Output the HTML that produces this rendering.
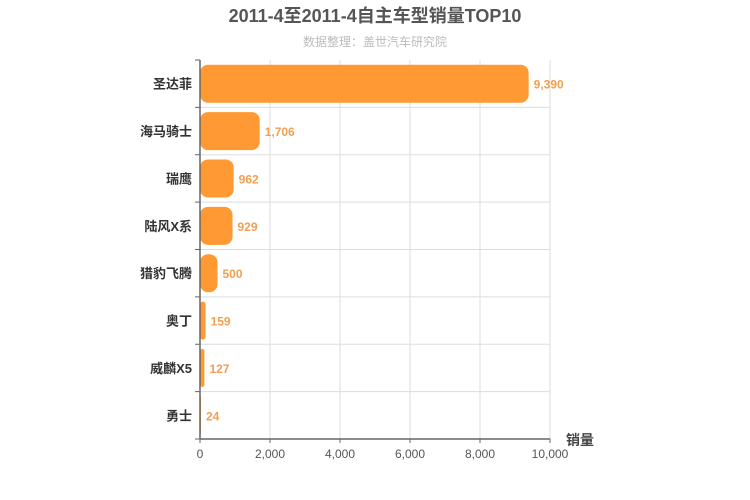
<!DOCTYPE html>
<html><head><meta charset="utf-8"><style>
body{margin:0;background:#fff;}
svg{display:block;font-family:"Liberation Sans","Noto Sans CJK SC",sans-serif;}
</style></head><body>
<svg id="c" width="750" height="500">
<text x="375" y="22" text-anchor="middle" font-size="18" font-weight="bold" fill="#555">2011-4至2011-4自主车型销量TOP10</text>
<text x="375" y="46" text-anchor="middle" font-size="12" fill="#bbb">数据整理：盖世汽车研究院</text>
<g id="grid"></g><g id="bars"></g><g id="axes"></g>
<text x="580" y="445" text-anchor="middle" font-size="14" font-weight="bold" fill="#444">销量</text>
</svg>
<script>
const categories=["圣达菲","海马骑士","瑞鹰","陆风X系","猎豹飞腾","奥丁","威麟X5","勇士"];
const values=[9390,1706,962,929,500,159,127,24];
const ticks=[0,2000,4000,6000,8000,10000];
const tickLabels=["0","2,000","4,000","6,000","8,000","10,000"];
const NS="http://www.w3.org/2000/svg";
const x0=200,x1=550,y0=60,y1=439,maxV=10000;
const xs=v=>x0+(v/maxV)*(x1-x0);
const band=(y1-y0)/categories.length;
function mk(t,a,p){const e=document.createElementNS(NS,t);for(const k in a)e.setAttribute(k,a[k]);p.appendChild(e);return e;}
const g=document.getElementById('grid'),b=document.getElementById('bars'),ax=document.getElementById('axes');
ticks.forEach((t,i)=>{
 const l=mk('line',{x1:xs(t),x2:xs(t),y1:y0,y2:y1,stroke:'#ddd'},g);
 
 
 const tk=mk('line',{x1:xs(t),x2:xs(t),y1:y1,y2:y1+4,stroke:'#666'},ax);
 
 
 const tx=mk('text',{x:xs(t),y:y1+19,'text-anchor':'middle','font-size':12,fill:'#555'},ax);
 tx.textContent=tickLabels[i];
 
 
});
for(let i=0;i<=categories.length;i++){
 const y=y0+i*band;
 if(i>0&&i<categories.length){const l=mk('line',{x1:x0,x2:x1,y1:y,y2:y,stroke:'#ddd'},g);
 
 }
 const tk=mk('line',{x1:x0-5,x2:x0,y1:y,y2:y,stroke:'#666'},ax);
 
 
}
mk('line',{x1:x1,x2:x1,y1:y0,y2:y1,stroke:'#ddd'},g);
categories.forEach((c,i)=>{
 const cy=y0+band*(i+0.5),h=38,w=Math.max(xs(values[i])-x0,1);
 const r=mk('rect',{x:x0,y:cy-h/2,width:w,height:h,rx:Math.min(8,w/2),fill:'#ff9933'},b);
 
 
 const v=mk('text',{x:x0+w+5,y:cy+5,'font-size':12,'font-weight':'bold',fill:'#f0a050'},b);
 v.textContent=values[i].toLocaleString('en-US');
 
 
 const t=mk('text',{x:x0-8,y:cy+5,'text-anchor':'end','font-size':13,'font-weight':'bold',fill:'#333'},ax);
 t.textContent=c;
 
 
});
mk('line',{x1:x0,x2:x0,y1:y0,y2:y1,stroke:'#666','stroke-width':1.5},ax);
mk('line',{x1:x0,x2:x1,y1:y1,y2:y1,stroke:'#666','stroke-width':1.5},ax);
</script>
</body></html>
